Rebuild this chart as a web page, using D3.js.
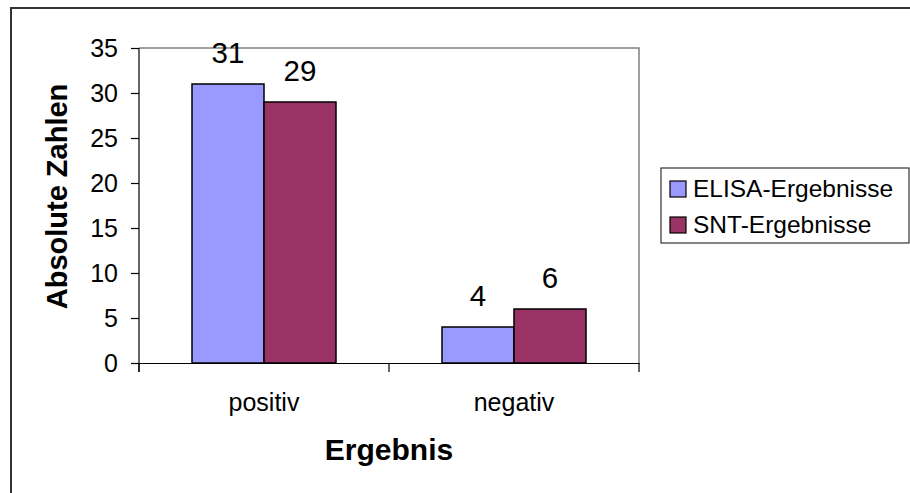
<!DOCTYPE html>
<html>
<head>
<meta charset="utf-8">
<script src="https://cdn.jsdelivr.net/npm/d3@7"></script>
<style>
  html, body { margin: 0; padding: 0; background: #fff; }
  svg { display: block; font-family: "Liberation Sans", Arial, sans-serif; }
</style>
</head>
<body>
<svg id="chart" width="910" height="493"></svg>
<script>
const categories = ["positiv", "negativ"];
const seriesNames = ["ELISA-Ergebnisse", "SNT-Ergebnisse"];
const elisaValues = [31, 4];
const sntValues = [29, 6];
const yTicks = [0, 5, 10, 15, 20, 25, 30, 35];
const colors = ["#9999FF", "#993366"];

const svg = d3.select("#chart");

// outer chart border
svg.append("rect")
  .attr("x", 11).attr("y", 8).attr("width", 920).attr("height", 520)
  .attr("fill", "none").attr("stroke", "#333").attr("stroke-width", 2);

const plot = { left: 139, right: 639, top: 48, bottom: 363 };

const x = d3.scaleBand().domain(categories)
  .range([plot.left, plot.right]).paddingInner(0.424).paddingOuter(0.212);
const xs = d3.scaleBand().domain(seriesNames).range([0, x.bandwidth()]);
const y = d3.scaleLinear().domain([0, 35]).range([plot.bottom, plot.top]);

// plot area border (top & right)
svg.append("path")
  .attr("d", `M${plot.left},${plot.top}H${plot.right}V${plot.bottom}`)
  .attr("fill", "none").attr("stroke", "#808080").attr("stroke-width", 1.5);

const rows = categories.map((c, i) => ({ cat: c, vals: [elisaValues[i], sntValues[i]] }));

const groups = svg.append("g").selectAll("g").data(rows).join("g")
  .attr("transform", d => `translate(${x(d.cat)},0)`);

groups.selectAll("rect").data(d => d.vals.map((v, j) => ({ v, s: seriesNames[j], j })))
  .join("rect")
  .attr("x", d => xs(d.s))
  .attr("y", d => y(d.v))
  .attr("width", xs.bandwidth())
  .attr("height", d => y(0) - y(d.v))
  .attr("fill", d => colors[d.j])
  .attr("stroke", "#000").attr("stroke-width", 1.5);

groups.selectAll("text.val").data(d => d.vals.map((v, j) => ({ v, s: seriesNames[j] })))
  .join("text").attr("class", "val")
  .attr("x", d => xs(d.s) + xs.bandwidth() / 2)
  .attr("y", d => y(d.v) - 21)
  .attr("text-anchor", "middle")
  .attr("font-size", 29.5)
  .attr("fill", "#000")
  .text(d => d.v);

// y axis
const yAxis = svg.append("g").attr("transform", `translate(${plot.left},0)`)
  .call(d3.axisLeft(y).tickValues(yTicks).tickSize(8).tickPadding(13).tickSizeOuter(0));
yAxis.select(".domain").attr("d", `M0,${plot.top}V${plot.bottom + 9}`).attr("stroke", "#000").attr("stroke-width", 1.2);
yAxis.selectAll(".tick line").attr("stroke", "#000").attr("stroke-width", 1.2);
yAxis.selectAll(".tick text").attr("font-size", 25).attr("fill", "#000")
  .attr("font-family", "Liberation Sans, Arial, sans-serif");

// x axis
const xAxis = svg.append("g").attr("transform", `translate(0,${plot.bottom})`)
  .call(d3.axisBottom(x).tickSize(0).tickPadding(30).tickSizeOuter(0));
xAxis.select(".domain").attr("stroke", "#000").attr("stroke-width", 1.2);
xAxis.selectAll(".tick text").attr("font-size", 25).attr("fill", "#000")
  .attr("font-family", "Liberation Sans, Arial, sans-serif");
// category boundary ticks
const boundaries = [plot.left, (x(categories[0]) + x.bandwidth() + x(categories[1])) / 2, plot.right];
xAxis.selectAll("line.bound").data(boundaries).join("line").attr("class", "bound")
  .attr("x1", d => d).attr("x2", d => d).attr("y1", 0).attr("y2", 9)
  .attr("stroke", "#000").attr("stroke-width", 1.2);

// axis titles
svg.append("text")
  .attr("transform", `translate(67,196.5) rotate(-90)`)
  .attr("text-anchor", "middle").attr("font-size", 29).attr("font-weight", "bold")
  .text("Absolute Zahlen");
svg.append("text")
  .attr("x", (plot.left + plot.right) / 2).attr("y", 460)
  .attr("text-anchor", "middle").attr("font-size", 30).attr("font-weight", "bold")
  .text("Ergebnis");

// legend
const legend = svg.append("g");
legend.append("rect").attr("x", 661).attr("y", 168).attr("width", 248).attr("height", 75)
  .attr("fill", "#fff").attr("stroke", "#333").attr("stroke-width", 1.2);
const li = legend.selectAll("g.item").data(seriesNames).join("g").attr("class", "item")
  .attr("transform", (d, i) => `translate(0,${i * 36})`);
li.append("rect").attr("x", 670).attr("y", 181).attr("width", 16).attr("height", 16)
  .attr("fill", (d, i) => colors[i]).attr("stroke", "#000").attr("stroke-width", 1.2);
li.append("text").attr("x", 693).attr("y", 197).attr("font-size", 24.5).attr("fill", "#000")
  .text(d => d);
</script>
</body>
</html>
